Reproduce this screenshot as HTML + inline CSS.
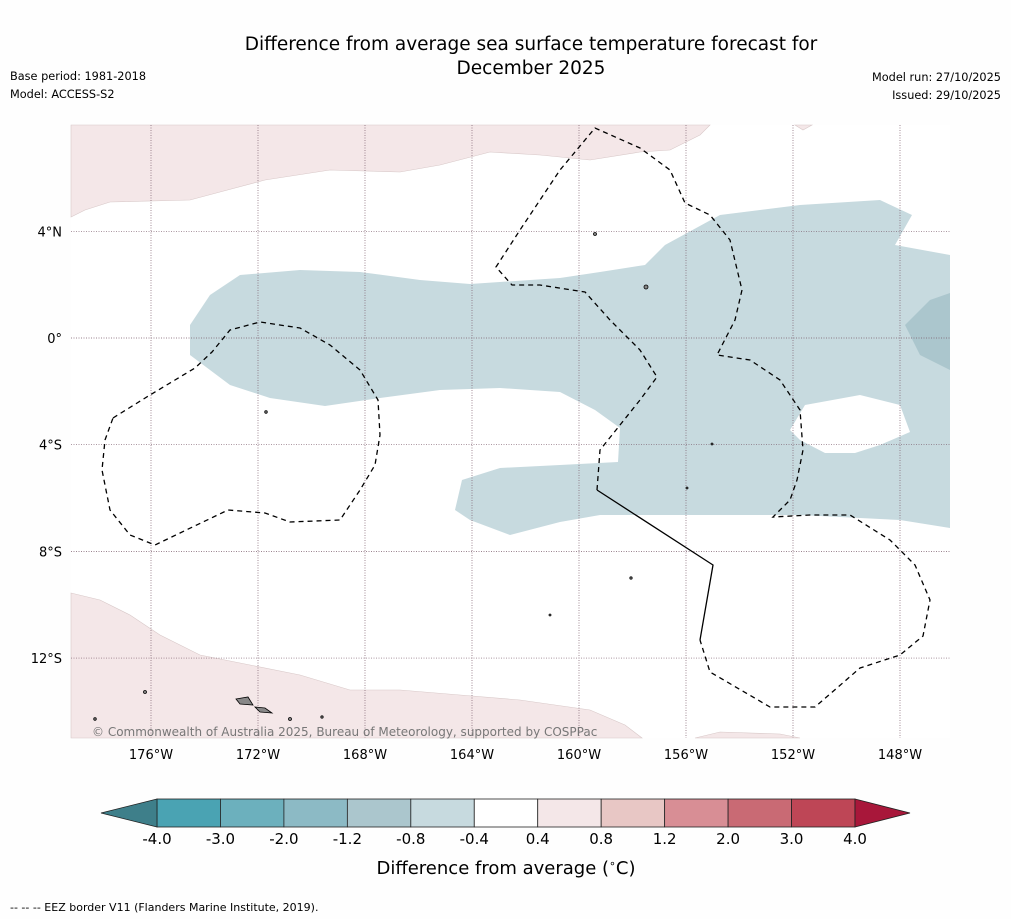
<!DOCTYPE html>
<html><head><meta charset="utf-8"><style>
body{margin:0;background:#fff;width:1011px;height:919px;overflow:hidden;font-family:"Liberation Sans","DejaVu Sans",sans-serif}
svg text{font-family:"DejaVu Sans","Liberation Sans",sans-serif}
</style></head><body>
<svg id="chart" width="1011" height="919" xmlns="http://www.w3.org/2000/svg">
<rect width="1011" height="919" fill="#fefefe"/>
<text x="531" y="50" font-size="18.5" text-anchor="middle">Difference from average sea surface temperature forecast for</text>
<text x="531" y="74" font-size="18.5" text-anchor="middle">December 2025</text>
<text x="10" y="80" font-size="11.3">Base period: 1981-2018</text>
<text x="10" y="98" font-size="11.3">Model: ACCESS-S2</text>
<text x="1001" y="81" font-size="11.3" text-anchor="end">Model run: 27/10/2025</text>
<text x="1001" y="99" font-size="11.3" text-anchor="end">Issued: 29/10/2025</text>
<g>
<rect x="71" y="125" width="879" height="613" fill="#fff"/>
<path fill="#f4e7e8" stroke="#d8c8c8" stroke-width="0.6" d="M71,125 L710,125 L700,135 L670,150 L640,152 L590,160 L540,155 L490,152 L440,165 L400,172 L330,170 L265,180 L220,192 L190,200 L110,202 L85,210 L71,217 Z M795,125 L812,125 L803,130 Z"/>
<path fill="#f4e7e8" stroke="#d8c8c8" stroke-width="0.6" d="M71,593 L100,600 L130,615 L160,635 L200,655 L250,665 L300,675 L350,690 L400,690 L460,695 L520,700 L590,710 L625,725 L642,738 L71,738 Z M695,738 L720,732 L780,734 L800,738 Z"/>
<path fill="#c7dadf" fill-rule="evenodd" d="M190,325 L210,295 L240,275 L300,270 L360,272 L420,280 L470,284 L560,278 L600,272 L645,265 L665,245 L720,215 L800,205 L880,200 L912,215 L895,245 L950,255 L950,528 L900,520 L800,515 L680,515 L600,515 L560,522 L510,535 L470,520 L455,510 L462,480 L500,468 L560,465 L618,462 L620,428 L595,410 L560,392 L500,388 L440,390 L380,398 L325,406 L270,398 L230,385 L190,355 Z M790,430 L805,405 L860,395 L900,405 L910,432 L880,445 L855,453 L825,453 L800,440 Z"/>
<path fill="#abc6cd" d="M905,325 L930,300 L950,293 L950,370 L920,355 Z"/>
<g id="grid" stroke="#7a5a6a" stroke-width="0.7" stroke-dasharray="1,1.5"></g>
<path fill="none" stroke="#000" stroke-width="1.3" stroke-dasharray="5,4" d="M113,418 L150,395 L195,368 L212,352 L230,330 L260,322 L300,328 L330,345 L360,370 L378,400 L380,435 L375,465 L360,490 L340,520 L290,522 L265,513 L228,510 L155,545 L130,535 L110,510 L102,470 L105,440 Z M597,490 L600,450 L620,425 L640,400 L657,377 L640,350 L610,320 L585,292 L540,285 L512,285 L496,267 L520,230 L560,170 L595,128 L640,148 L670,170 L685,203 L710,215 L730,240 L742,290 L735,320 L717,355 L750,360 L780,380 L800,410 L803,450 L797,480 L790,500 L773,517 L810,515 L850,515 L890,540 L915,565 L930,600 L923,636 L900,655 L860,668 L815,707 L770,707 L710,672 L700,640"/>
<path fill="none" stroke="#000" stroke-width="1.3" d="M597,490 L713,565 L700,640"/>
<g fill="#888" stroke="#000" stroke-width="0.8">
<path d="M236,699 L248,697 L253,705 L240,704 Z"/><path d="M255,707 L265,708 L272,713 L260,712 Z"/>
<circle cx="646" cy="287" r="2"/><circle cx="595" cy="234" r="1.5"/><circle cx="145" cy="692" r="1.5"/><circle cx="266" cy="412" r="1.3"/><circle cx="290" cy="719" r="1.5"/><circle cx="322" cy="717" r="1.2"/><circle cx="95" cy="719" r="1.3"/><circle cx="550" cy="615" r="1"/><circle cx="631" cy="578" r="1.2"/><circle cx="712" cy="444" r="1"/><circle cx="687" cy="488" r="1"/>
</g>
<text x="92" y="736" font-size="12" fill="#777">© Commonwealth of Australia 2025, Bureau of Meteorology, supported by COSPPac</text>
</g>
<g id="axes"></g>
<g id="cbar"></g>
<text x="506" y="874" font-size="18" text-anchor="middle">Difference from average (<tspan font-size="11" dy="-7">∘</tspan><tspan dy="7">C)</tspan></text>
<text x="10" y="911" font-size="11">--  --  -- EEZ border V11 (Flanders Marine Institute, 2019).</text>
</svg>
<script>
const lonTicks=[-176,-172,-168,-164,-160,-156,-152,-148];
const latTicks=[4,0,-4,-8,-12];
const cbarBounds=[-4.0,-3.0,-2.0,-1.2,-0.8,-0.4,0.4,0.8,1.2,2.0,3.0,4.0];
const cbarColors=["#4aa3b3","#6cb0bd","#8cbac5","#abc6cd","#c7dadf","#ffffff","#f4e7e8","#e8c7c5","#d88e95","#c96a74","#be4656"];
const NS="http://www.w3.org/2000/svg";
const xLon=l=>151+(l+176)*26.75, yLat=a=>338-a*26.67;
function mk(t,a,p){const e=document.createElementNS(NS,t);for(const k in a)e.setAttribute(k,a[k]);p.appendChild(e);return e;}
const grid=document.getElementById('grid'),axes=document.getElementById('axes'),cb=document.getElementById('cbar');
lonTicks.forEach(l=>{const x=xLon(l);
const g=mk('line',{x1:x,x2:x,y1:125,y2:738},grid);


const t=mk('text',{x:x,y:759,'font-size':13,'text-anchor':'middle'},axes);t.textContent=Math.abs(l)+'°W';

});
latTicks.forEach(a=>{const y=yLat(a);
const g=mk('line',{x1:71,x2:950,y1:y,y2:y},grid);


const t=mk('text',{x:62,y:y+5,'font-size':13,'text-anchor':'end'},axes);t.textContent=a===0?'0°':Math.abs(a)+'°'+(a>0?'N':'S');

});
const cx0=157,cw=(855-157)/cbarColors.length,cy=799,ch=28;
cbarColors.forEach((c,i)=>{const r=mk('rect',{x:cx0+i*cw,y:cy,width:cw,height:ch,fill:c,stroke:'#222','stroke-width':0.8},cb);

});
const l=mk('path',{d:`M${cx0},${cy} L101,${cy+14} L${cx0},${cy+ch} Z`,fill:'#3e7f8a',stroke:'#222','stroke-width':0.8},cb);


const r=mk('path',{d:`M855,${cy} L910,${cy+14} L855,${cy+ch} Z`,fill:'#a8173a',stroke:'#222','stroke-width':0.8},cb);


cbarBounds.forEach((v,i)=>{const t=mk('text',{x:cx0+i*cw,y:844,'font-size':15,'text-anchor':'middle'},cb);t.textContent=v.toFixed(1);

});
</script>
</body></html>
